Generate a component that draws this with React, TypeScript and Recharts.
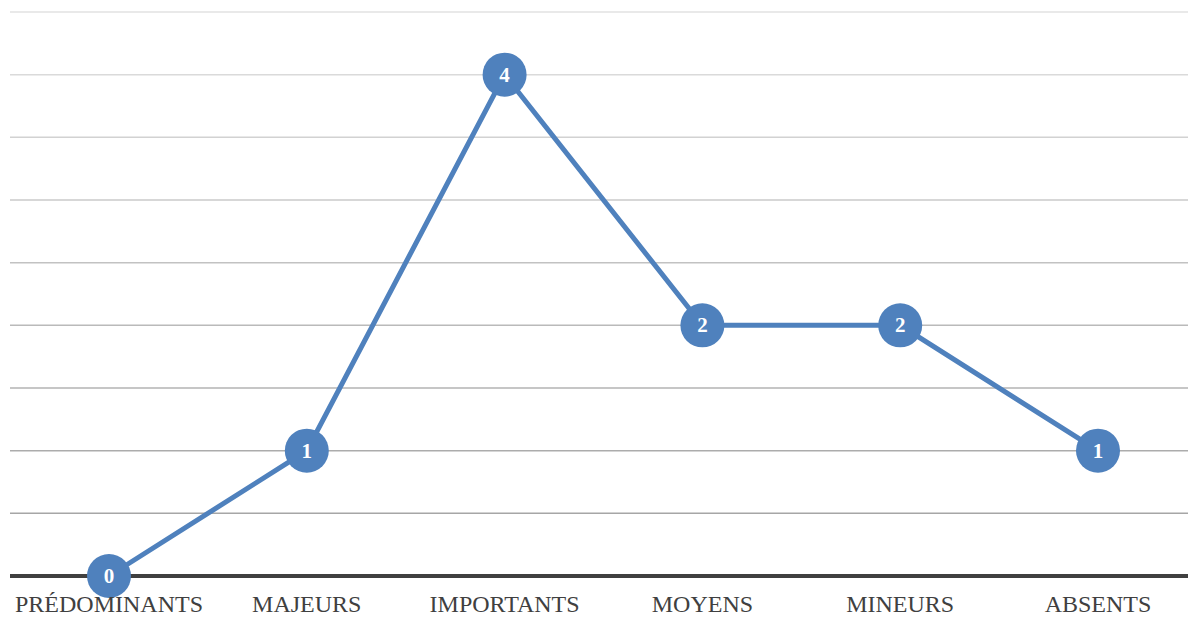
import { LineChart, Line, XAxis, YAxis, ReferenceLine, LabelList } from "recharts";

const categories = ["PRÉDOMINANTS", "MAJEURS", "IMPORTANTS", "MOYENS", "MINEURS", "ABSENTS"];
const counts = [0, 1, 4, 2, 2, 1];
const gridTicks = [0.5, 1, 1.5, 2, 2.5, 3, 3.5, 4, 4.5];
const gridColors = ["#a6a6a6", "#acacac", "#b3b3b3", "#bababa", "#c2c2c2", "#cacaca", "#d2d2d2", "#dadada", "#e2e2e2"];

const data = categories.map((name, i) => ({ name, value: counts[i] }));

const BLUE = "#4f81bd";
const SERIF = "'Liberation Serif', 'Times New Roman', serif";

function Marker(props: { cx?: number; cy?: number; index?: number }) {
  const { cx, cy, index } = props;
  if (cx == null || cy == null) return null;
  return <circle key={index} cx={cx} cy={cy} r={22} fill={BLUE} stroke="none" />;
}

function ValueLabel(props: { x?: number; y?: number; value?: number | string }) {
  const { x, y, value } = props;
  if (x == null || y == null) return null;
  return (
    <text
      x={x}
      y={y}
      dy={7}
      textAnchor="middle"
      fill="#ffffff"
      fontFamily={SERIF}
      fontWeight="bold"
      fontSize={21}
    >
      {value}
    </text>
  );
}

export default function App() {
  return (
    <div
      style={{
        position: "fixed",
        left: 0,
        top: 0,
        width: 1188,
        height: 617,
        overflow: "hidden",
        background: "#ffffff",
      }}
    >
      <LineChart
        width={1197}
        height={617}
        data={data}
        margin={{ top: 12, right: 0, bottom: 0, left: 10 }}
      >
        <XAxis
          dataKey="name"
          axisLine={false}
          tickLine={false}
          height={41}
          interval={0}
          padding={{ left: 99, right: 99 }}
          tick={{ fill: "#404040", fontSize: 24, fontFamily: SERIF }}
          tickMargin={13}
        />
        <YAxis hide domain={[0, 4.5]} ticks={gridTicks} />
        {gridTicks.map((t, i) => (
          <ReferenceLine key={t} y={t} stroke={gridColors[i]} strokeWidth={1.5} />
        ))}
        <ReferenceLine y={0} stroke="#404040" strokeWidth={4} />
        <Line
          type="linear"
          dataKey="value"
          stroke={BLUE}
          strokeWidth={5}
          dot={<Marker />}
          activeDot={false}
          isAnimationActive={false}
        >
          <LabelList dataKey="value" content={<ValueLabel />} />
        </Line>
      </LineChart>
    </div>
  );
}
